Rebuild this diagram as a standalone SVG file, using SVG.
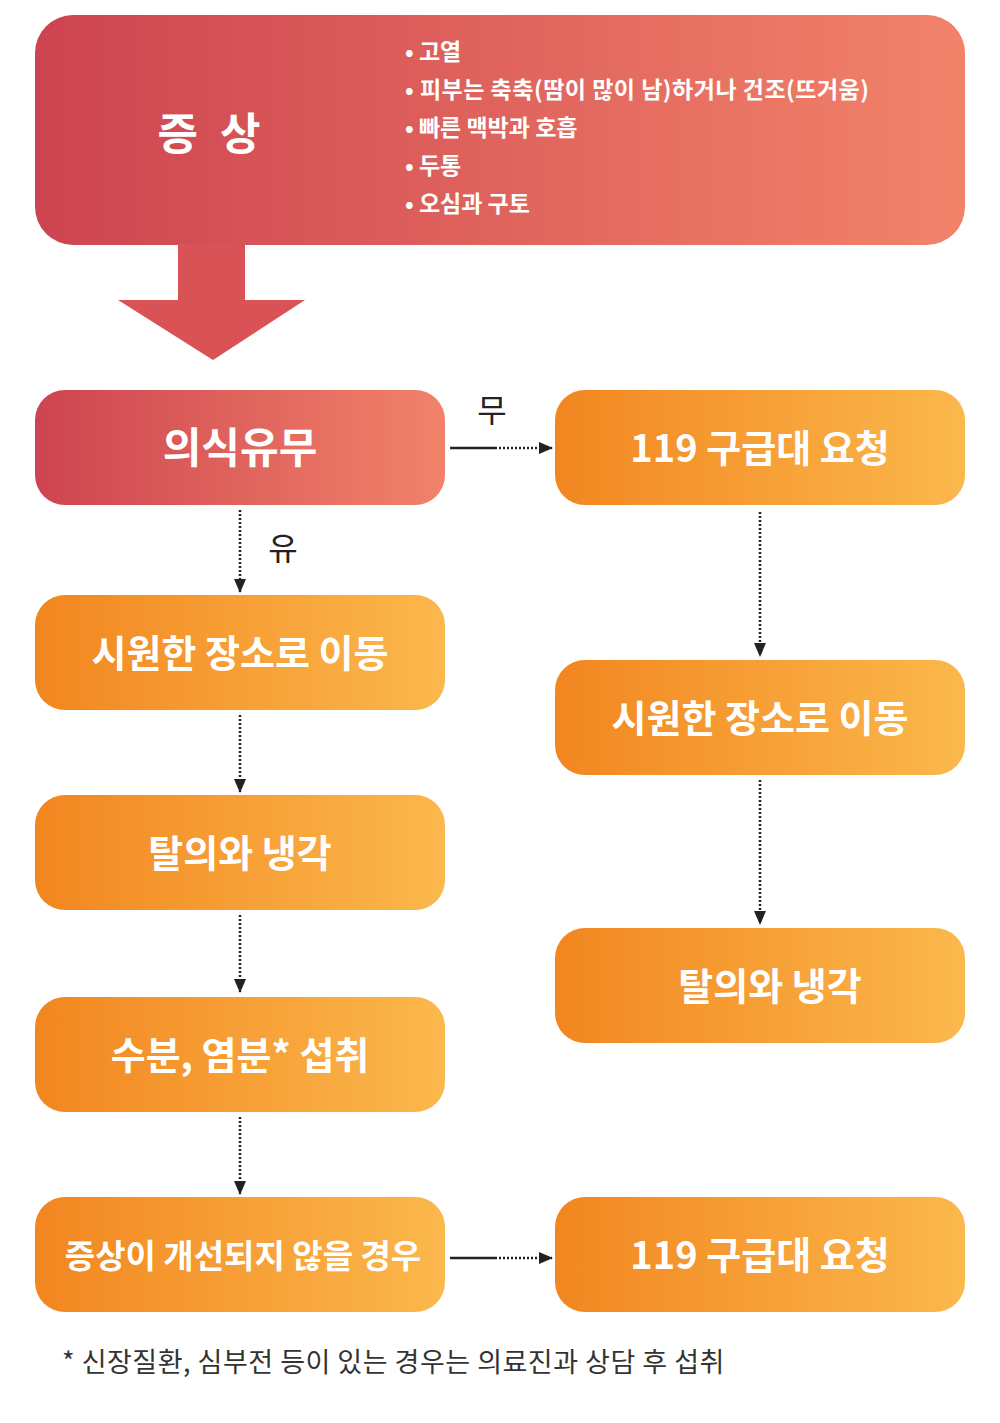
<svg xmlns="http://www.w3.org/2000/svg" width="1000" height="1423" viewBox="0 0 1000 1423">
<defs>
<linearGradient id="red" x1="0" y1="0" x2="1" y2="0"><stop offset="0" stop-color="#cd4450"/><stop offset="1" stop-color="#f2836a"/></linearGradient>
<linearGradient id="org" x1="0" y1="0" x2="1" y2="0"><stop offset="0" stop-color="#f28620"/><stop offset="1" stop-color="#fbb84c"/></linearGradient>
<marker id="ah" markerWidth="14" markerHeight="14" refX="13" refY="7" orient="auto" markerUnits="userSpaceOnUse" viewBox="0 0 14 14"><path d="M0,1 L14,7 L0,13 z" fill="#222"/></marker>
<style>
.t{font-family:"Noto Sans CJK KR","Noto Sans",sans-serif;font-weight:bold;fill:#fff;text-anchor:middle}
.n{font-size:38px}
.b{font-family:"Noto Sans CJK KR",sans-serif;font-weight:bold;fill:#fff;font-size:23px}
.d{stroke:#222;stroke-width:2.5;fill:none;stroke-dasharray:2 2}
.s{stroke:#222;stroke-width:2.5;fill:none}
</style>
</defs>
<rect width="1000" height="1423" fill="#fff"/>
<g id="symptoms">
<rect x="35" y="15" width="930" height="230" rx="38" fill="url(#red)"/>
<text class="t" x="212" y="150" font-size="44" letter-spacing="6">증 상</text>
<text class="b" x="405" y="60">• 고열</text>
<text class="b" x="405" y="98" letter-spacing="0.5">• 피부는 축축(땀이 많이 남)하거나 건조(뜨거움)</text>
<text class="b" x="405" y="136">• 빠른 맥박과 호흡</text>
<text class="b" x="405" y="174">• 두통</text>
<text class="b" x="405" y="212">• 오심과 구토</text>
</g>
<g id="bigarrow"><path d="M178,244 L245,244 L245,300 L305,300 L213,360 L118,300 L178,300 Z" fill="#d85256"/></g>
<g id="n1"><rect x="35" y="390" width="410" height="115" rx="30" fill="url(#red)"/><text class="t" x="240" y="463" style="font-size:42px">의식유무</text></g>
<g id="n2"><rect x="555" y="390" width="410" height="115" rx="30" fill="url(#org)"/><text class="t n" x="760" y="462">119 구급대 요청</text></g>
<g id="n3"><rect x="35" y="595" width="410" height="115" rx="30" fill="url(#org)"/><text class="t n" x="240" y="667">시원한 장소로 이동</text></g>
<g id="n4"><rect x="555" y="660" width="410" height="115" rx="30" fill="url(#org)"/><text class="t n" x="760" y="732">시원한 장소로 이동</text></g>
<g id="n5"><rect x="35" y="795" width="410" height="115" rx="30" fill="url(#org)"/><text class="t n" x="240" y="867">탈의와 냉각</text></g>
<g id="n6"><rect x="555" y="928" width="410" height="115" rx="30" fill="url(#org)"/><text class="t n" x="770" y="1000">탈의와 냉각</text></g>
<g id="n7"><rect x="35" y="997" width="410" height="115" rx="30" fill="url(#org)"/><text class="t n" x="240" y="1069">수분, 염분* 섭취</text></g>
<g id="n8"><rect x="35" y="1197" width="410" height="115" rx="30" fill="url(#org)"/><text class="t" x="243" y="1268" style="font-size:33px">증상이 개선되지 않을 경우</text></g>
<g id="n9"><rect x="555" y="1197" width="410" height="115" rx="30" fill="url(#org)"/><text class="t n" x="760" y="1269">119 구급대 요청</text></g>
<g id="connectors">
<path class="s" d="M450,448 H495"/><path class="d" d="M495,448 H552" marker-end="url(#ah)"/>
<path class="s" d="M450,1258 H495"/><path class="d" d="M495,1258 H552" marker-end="url(#ah)"/>
<path class="d" d="M240,510 V592" marker-end="url(#ah)"/>
<path class="d" d="M240,715 V792" marker-end="url(#ah)"/>
<path class="d" d="M240,915 V992" marker-end="url(#ah)"/>
<path class="d" d="M240,1117 V1194" marker-end="url(#ah)"/>
<path class="d" d="M760,512 V656" marker-end="url(#ah)"/>
<path class="d" d="M760,780 V924" marker-end="url(#ah)"/>
<text x="492" y="422" font-family="Noto Sans CJK KR,sans-serif" font-size="32" fill="#222" text-anchor="middle">무</text>
<text x="283" y="560" font-family="Noto Sans CJK KR,sans-serif" font-size="32" fill="#222" text-anchor="middle">유</text>
</g>
<text x="62" y="1372" font-family="Noto Sans CJK KR,sans-serif" font-size="27" fill="#333" letter-spacing="0.5">* 신장질환, 심부전 등이 있는 경우는 의료진과 상담 후 섭취</text>
</svg>
